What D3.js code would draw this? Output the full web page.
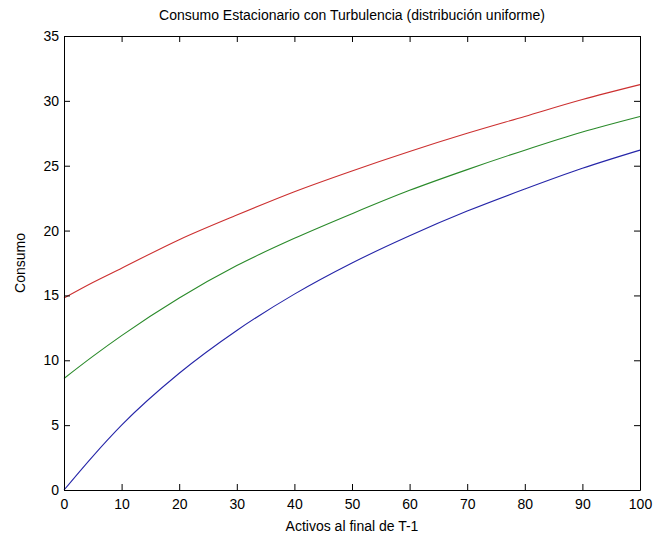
<!DOCTYPE html>
<html><head><meta charset="utf-8">
<script src="https://cdn.jsdelivr.net/npm/d3@7"></script>
<style>
body{margin:0;background:#fff;}
text{font-family:"Liberation Sans Narrow","Arial Narrow","Liberation Sans",Arial,sans-serif;}
</style></head>
<body><svg id="c" width="654" height="537"></svg>
<script>
const xValues = [0,5,10,20,30,40,50,60,70,80,90,100];
const blueValues  = [0,2.6,5.0,9.0,12.3,15.1,17.5,19.6,21.5,23.2,24.8,26.2];
const greenValues = [8.6,10.3,11.9,14.8,17.3,19.4,21.3,23.1,24.7,26.2,27.6,28.8];
const redValues   = [14.8,16.0,17.1,19.3,21.2,23.0,24.6,26.1,27.5,28.8,30.1,31.25];
const xTicks = [0,10,20,30,40,50,60,70,80,90,100];
const yTicks = [0,5,10,15,20,25,30,35];
const titleText = "Consumo Estacionario con Turbulencia (distribución uniforme)";
const xLabel = "Activos al final de T-1";
const yLabel = "Consumo";

const svg = d3.select("#c");
const L=64, R=640, T=36, B=490;
const x = d3.scaleLinear().domain([0,100]).range([L,R]);
const y = d3.scaleLinear().domain([0,35]).range([B,T]);

const series = [
  {vals: blueValues, color:"#2525a8"},
  {vals: greenValues, color:"#2a8a2a"},
  {vals: redValues, color:"#cc3030"}
];
const line = d3.line().x((d,i)=>x(xValues[i])).y(d=>y(d)).curve(d3.curveMonotoneX);
series.forEach(s=>{
  svg.append("path").attr("d", line(s.vals)).attr("fill","none")
    .attr("stroke", s.color).attr("stroke-width",1.1);
});

const fs = 14;
const gB = svg.append("g").attr("transform",`translate(0,${B})`)
  .call(d3.axisBottom(x).tickValues(xTicks).tickSizeInner(-6).tickSizeOuter(0).tickPadding(5).tickFormat(d3.format("d")));
const gT = svg.append("g").attr("transform",`translate(0,${T})`)
  .call(d3.axisTop(x).tickValues(xTicks).tickSizeInner(-6).tickSizeOuter(0).tickFormat(""));
const gL = svg.append("g").attr("transform",`translate(${L},0)`)
  .call(d3.axisLeft(y).tickValues(yTicks).tickSizeInner(-6).tickSizeOuter(0).tickPadding(5).tickFormat(d3.format("d")));
const gR = svg.append("g").attr("transform",`translate(${R},0)`)
  .call(d3.axisRight(y).tickValues(yTicks).tickSizeInner(-6).tickSizeOuter(0).tickFormat(""));
[gB,gT,gL,gR].forEach(g=>{
  g.selectAll("path").attr("stroke","#000").attr("stroke-width",1);
  g.selectAll("line").attr("stroke","#000");
  g.selectAll("text").attr("fill","#000").style("font-size",fs+"px");
});
gB.selectAll("text").attr("dy","0.71em").attr("y",9);

svg.append("text").attr("x",(L+R)/2).attr("y",20).attr("text-anchor","middle")
  .style("font-size",fs+"px").text(titleText);
svg.append("text").attr("x",(L+R)/2).attr("y",531).attr("text-anchor","middle")
  .style("font-size",fs+"px").text(xLabel);
svg.append("text").attr("transform",`translate(25,${(T+B)/2}) rotate(-90)`).attr("text-anchor","middle")
  .style("font-size",fs+"px").text(yLabel);
</script></body></html>
